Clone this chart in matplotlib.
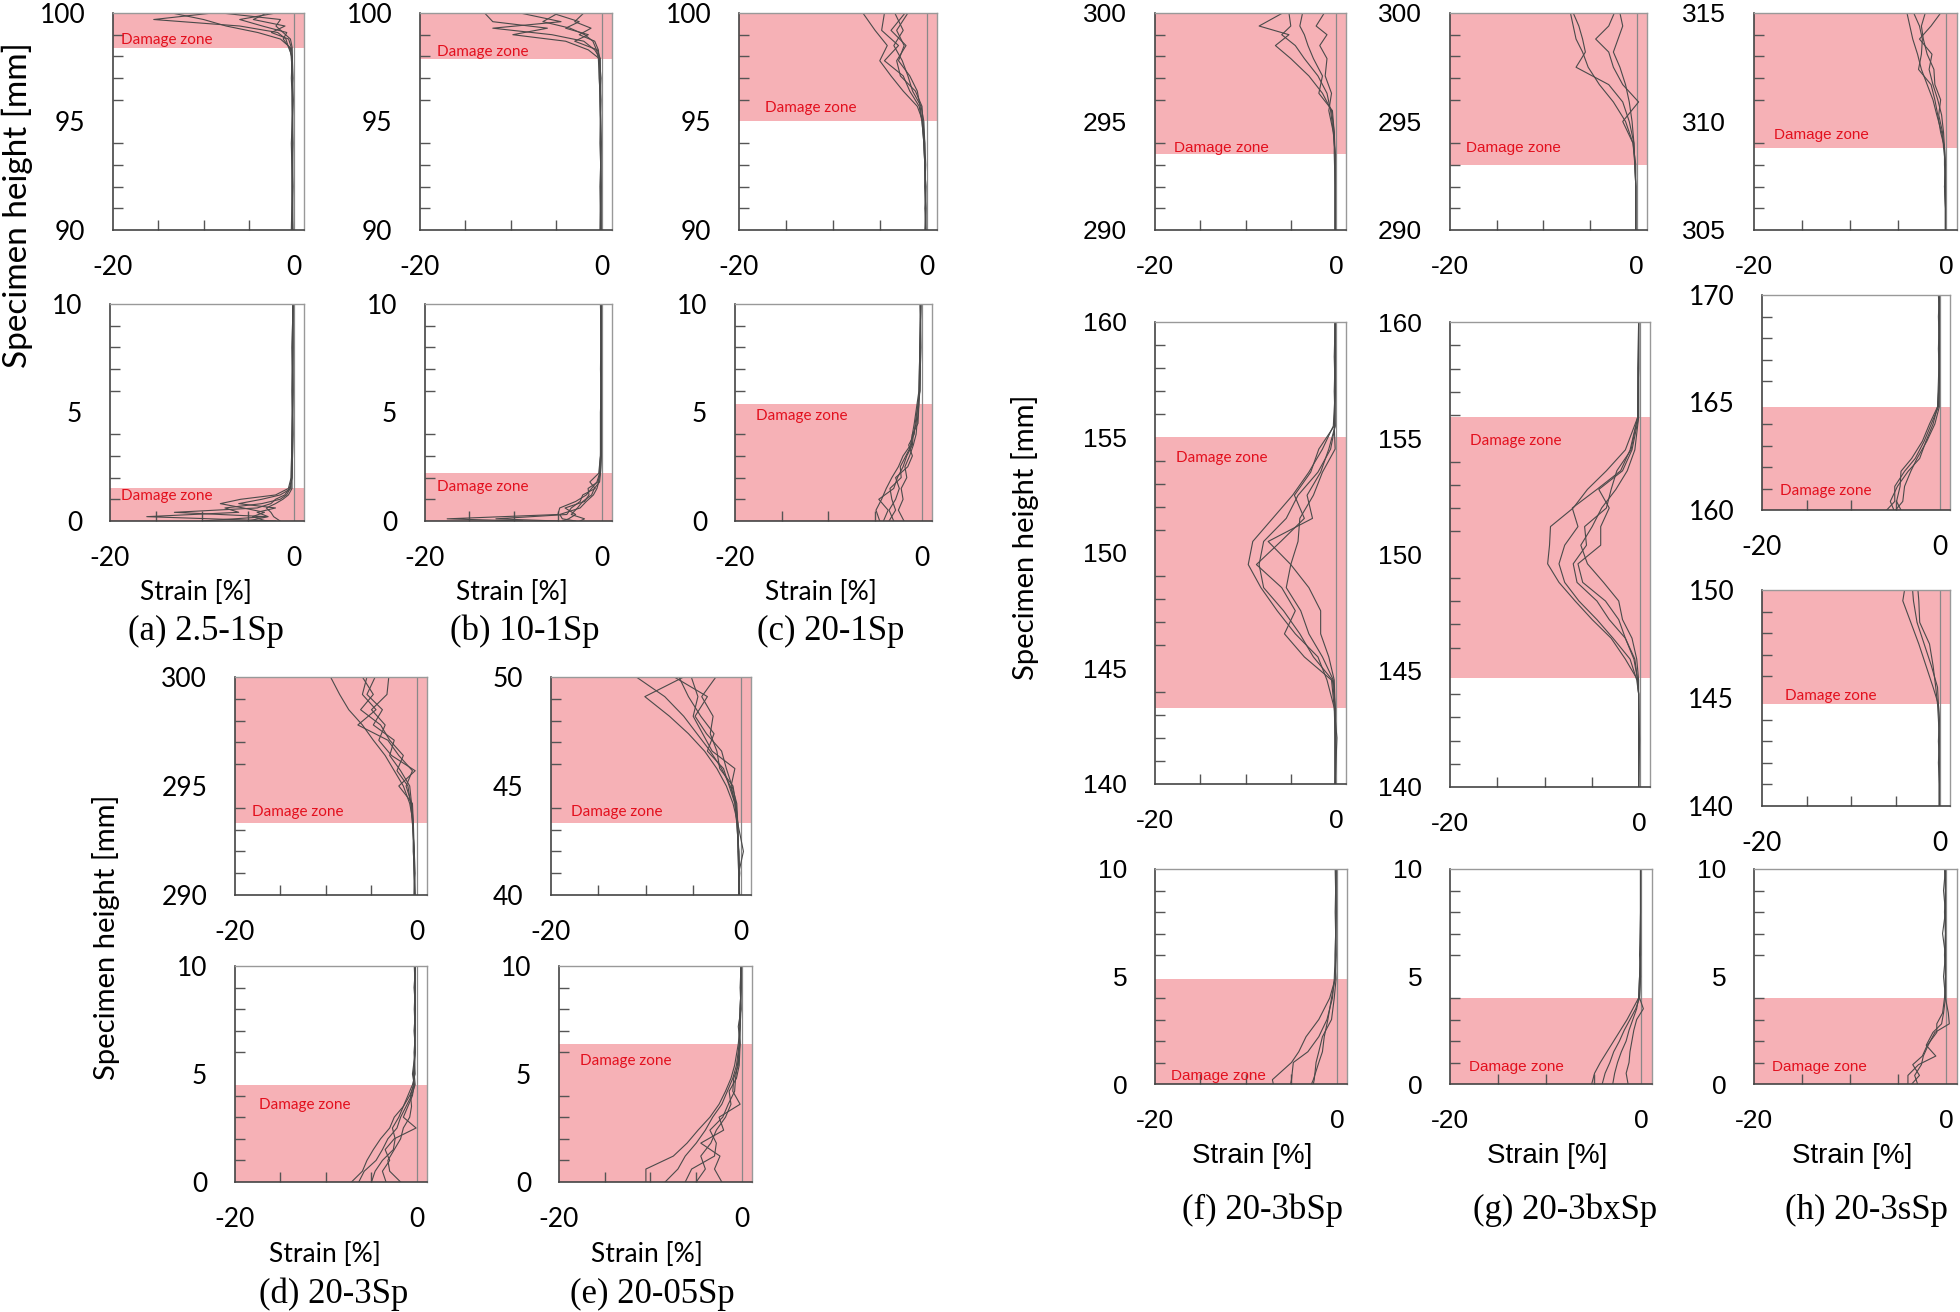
import matplotlib
matplotlib.use("Agg")
import matplotlib.pyplot as plt
from matplotlib.ticker import FixedLocator, MultipleLocator

W, H = 1960, 1312

# ---------- данные: высота образца [мм] и профили деформации [%] ----------

A_TOP_Y = [90, 92, 94, 96, 97, 98, 98.4, 98.8, 99.1, 99.4, 99.7, 100]
A_TOP_STRAIN = [
    [-0.2, -0.2, -0.2, -0.1, -0.2, -0.3, -0.4, -1.5, -4.0, -7.5, -10.0, -13.5],
    [-0.1, -0.2, -0.1, -0.2, -0.3, -0.2, -0.6, -0.9, -1.8, -6.0, -15.5, -9.0],
    [-0.2, -0.1, -0.2, -0.2, -0.1, -0.2, -0.3, -0.6, -2.5, -1.0, -4.5, -3.0],
    [-0.3, -0.2, -0.2, -0.2, -0.2, -0.3, -0.5, -1.2, -0.8, -3.5, -6.0, -2.0],
    [-0.2, -0.2, -0.3, -0.1, -0.2, -0.2, -0.2, -0.4, -1.2, -2.0, -1.5, -8.0],
]
A_TOP_ZONE = (98.4, 100)

A_BOT_Y = [0, 0.2, 0.4, 0.6, 0.8, 1.0, 1.2, 1.5, 2, 4, 6, 8, 10]
A_BOT_STRAIN = [
    [-2.0, -16.0, -6.0, -7.5, -3.5, -1.5, -0.8, -0.4, -0.2, -0.2, -0.1, -0.1, -0.1],
    [-3.0, -4.5, -3.2, -5.5, -8.0, -5.8, -2.0, -0.6, -0.3, -0.2, -0.2, -0.1, -0.1],
    [-10.0, -3.0, -13.0, -4.0, -2.5, -2.0, -1.0, -0.5, -0.2, -0.1, -0.2, -0.2, -0.1],
    [-5.0, -2.8, -4.0, -2.0, -6.0, -3.5, -1.5, -0.3, -0.3, -0.2, -0.1, -0.1, -0.1],
    [-1.5, -2.2, -2.5, -3.0, -2.0, -1.2, -0.6, -0.2, -0.2, -0.1, -0.1, -0.2, -0.1],
]
A_BOT_ZONE = (0, 1.5)

B_TOP_Y = [90, 92, 94, 96, 97, 97.9, 98.3, 98.7, 99.0, 99.3, 99.6, 100]
B_TOP_STRAIN = [
    [-0.1, -0.1, -0.2, -0.2, -0.3, -0.3, -1.5, -4.0, -9.8, -6.0, -12.0, -12.9],
    [-0.1, -0.2, -0.1, -0.2, -0.2, -0.2, -0.8, -2.0, -5.5, -12.0, -4.5, -9.0],
    [-0.2, -0.1, -0.1, -0.2, -0.3, -0.4, -0.6, -1.0, -1.9, -3.5, -6.5, -4.8],
    [-0.1, -0.1, -0.2, -0.1, -0.2, -0.2, -0.5, -3.0, -1.5, -4.0, -2.5, -5.5],
    [-0.2, -0.2, -0.1, -0.2, -0.1, -0.3, -0.4, -0.8, -2.5, -1.2, -3.0, -2.0],
]
B_TOP_ZONE = (97.9, 100)

B_BOT_Y = [0, 0.1, 0.3, 0.6, 0.9, 1.2, 1.5, 1.8, 2.2, 3, 5, 7, 10]
B_BOT_STRAIN = [
    [-9.0, -17.5, -5.0, -4.8, -3.0, -1.8, -1.2, -0.6, -0.3, -0.2, -0.1, -0.1, -0.2],
    [-5.0, -12.0, -4.0, -3.5, -2.5, -2.2, -0.8, -1.4, -0.4, -0.2, -0.2, -0.1, -0.1],
    [-4.5, -3.8, -3.0, -4.2, -2.0, -1.5, -1.6, -0.5, -0.2, -0.1, -0.1, -0.2, -0.1],
    [-3.0, -4.5, -4.8, -2.5, -1.8, -1.0, -0.6, -0.4, -0.3, -0.2, -0.2, -0.1, -0.1],
    [-2.5, -2.0, -3.5, -2.8, -2.2, -1.2, -0.9, -0.3, -0.2, -0.1, -0.1, -0.1, -0.2],
]
B_BOT_ZONE = (0, 2.2)

C_TOP_Y = [90, 91, 92, 93, 94, 95, 95.7, 96.4, 97.1, 97.8, 98.5, 99.2, 100]
C_TOP_STRAIN = [
    [-0.1, -0.1, -0.1, -0.2, -0.3, -0.4, -1.0, -2.5, -3.8, -5.0, -4.2, -5.5, -6.8],
    [-0.1, -0.1, -0.2, -0.2, -0.3, -0.5, -0.8, -1.8, -2.5, -4.5, -3.0, -4.8, -4.5],
    [-0.1, -0.2, -0.1, -0.2, -0.2, -0.4, -0.5, -1.2, -2.8, -3.2, -2.2, -3.8, -2.3],
    [-0.1, -0.1, -0.2, -0.1, -0.2, -0.3, -0.6, -1.5, -2.0, -2.6, -3.5, -2.5, -3.4],
    [-0.2, -0.1, -0.1, -0.2, -0.3, -0.5, -0.7, -1.0, -1.8, -3.0, -2.4, -3.2, -2.0],
]
C_TOP_ZONE = (95.0, 100)

C_BOT_Y = [0, 0.5, 1.0, 1.5, 2.0, 2.5, 3.0, 3.5, 4.0, 4.5, 5.4, 6, 8, 10]
C_BOT_STRAIN = [
    [-4.5, -4.9, -4.3, -3.8, -3.2, -2.5, -2.0, -1.2, -1.0, -0.8, -0.5, -0.3, -0.2, -0.1],
    [-4.1, -3.6, -4.6, -3.0, -2.6, -2.0, -1.6, -1.0, -0.9, -0.6, -0.4, -0.2, -0.2, -0.1],
    [-1.9, -2.5, -2.0, -2.2, -1.6, -1.8, -1.3, -0.9, -0.6, -0.5, -0.3, -0.2, -0.1, -0.1],
    [-3.0, -3.5, -2.8, -2.4, -2.8, -1.5, -1.0, -1.4, -0.8, -0.7, -0.4, -0.2, -0.1, -0.2],
    [-3.5, -2.8, -3.2, -3.4, -2.2, -2.3, -1.7, -1.1, -1.0, -0.4, -0.3, -0.3, -0.2, -0.1],
]
C_BOT_ZONE = (0, 5.4)

D_TOP_Y = [290, 291, 292, 293.3, 294.2, 295.0, 295.7, 296.4, 297.1, 297.8, 298.5, 299.2, 300]
D_TOP_STRAIN = [
    [-0.3, -0.3, -0.4, -0.4, -0.8, -1.5, -2.5, -3.5, -4.8, -6.0, -7.5, -8.5, -9.5],
    [-0.2, -0.3, -0.3, -0.4, -0.6, -1.2, -0.5, -2.0, -3.2, -6.5, -4.5, -6.0, -5.5],
    [-0.3, -0.2, -0.3, -0.5, -0.7, -1.0, -2.2, -1.5, -3.0, -4.0, -6.2, -4.8, -6.0],
    [-0.3, -0.3, -0.4, -0.4, -0.5, -2.0, -0.2, -2.8, -4.2, -3.5, -5.0, -3.3, -3.1],
    [-0.2, -0.3, -0.3, -0.5, -0.6, -0.8, -1.8, -3.0, -2.5, -4.8, -3.8, -5.5, -4.6],
]
D_TOP_ZONE = (293.3, 300)

D_BOT_Y = [0, 0.5, 1.0, 1.5, 2.0, 2.5, 3.0, 3.5, 4.0, 4.5, 5, 6, 7, 8, 9, 10]
D_BOT_STRAIN = [
    [-7.2, -6.0, -5.5, -4.8, -4.0, -3.0, -2.5, -1.5, -0.8, -0.3, -0.4, -0.2, -0.3, -0.2, -0.3, -0.2],
    [-6.4, -5.8, -4.5, -3.8, -3.2, -2.2, -1.8, -1.2, -0.6, -0.2, -0.3, -0.3, -0.2, -0.2, -0.2, -0.3],
    [-3.4, -3.8, -3.0, -3.5, -2.5, -0.1, -1.5, -1.0, -0.5, -0.3, -0.5, -0.2, -0.2, -0.3, -0.2, -0.2],
    [-1.8, -3.0, -3.2, -2.5, -1.8, -1.5, -0.8, -0.6, -0.7, -0.4, -0.3, -0.2, -0.3, -0.2, -0.2, -0.2],
    [-5.0, -4.6, -3.8, -2.6, -2.4, -2.7, -2.0, -1.5, -1.0, -0.5, -0.2, -0.3, -0.2, -0.2, -0.3, -0.2],
]
D_BOT_ZONE = (0, 4.5)

E_TOP_Y = [40, 41, 42, 43.3, 44.2, 45.0, 45.8, 46.6, 47.4, 48.2, 49.1, 50]
E_TOP_STRAIN = [
    [-0.2, -0.2, -0.3, -0.3, -0.8, -1.5, -2.5, -3.8, -5.5, -7.5, -10.1, -6.0],
    [-0.2, -0.1, -0.2, -0.4, -0.6, -1.2, -1.8, -3.5, -2.8, -4.2, -5.5, -6.5],
    [-0.2, -0.2, 0.3, -0.3, -0.5, -0.8, -2.2, -2.5, -3.2, -2.9, -4.1, -2.6],
    [-0.1, -0.2, -0.2, -0.4, -0.6, -1.0, -0.6, -3.0, -4.0, -5.0, -4.5, -5.2],
    [-0.2, -0.2, -0.2, -0.3, -0.4, -0.9, -1.5, -2.0, -3.6, -4.8, -3.5, -7.0],
    [-0.2, -0.1, -0.2, -0.3, -0.5, -1.1, -2.0, -3.2, -4.6, -6.0, -8.0, -11.0],
]
E_TOP_ZONE = (43.3, 50)

E_BOT_Y = [0, 0.6, 1.2, 1.8, 2.4, 3.0, 3.6, 4.2, 4.8, 5.4, 6.4, 7.2, 8, 9, 10]
E_BOT_STRAIN = [
    [-10.5, -10.5, -7.5, -6.0, -4.8, -3.5, -2.5, -1.8, -1.2, -0.8, -0.4, -0.2, -0.2, -0.1, -0.1],
    [-8.4, -7.0, -6.2, -5.0, -4.0, -3.2, -2.2, -1.6, -1.0, -0.6, -0.3, -0.3, -0.2, -0.1, -0.1],
    [-6.2, -5.5, -3.0, -2.8, -3.5, -2.1, -1.5, -0.8, -0.7, -0.5, -0.2, -0.4, -0.1, -0.2, -0.1],
    [-2.2, -3.0, -2.4, -4.5, -2.0, -2.5, -0.2, -1.0, -0.9, -0.4, -0.3, -0.2, -0.2, -0.1, -0.1],
    [-5.0, -4.0, -4.5, -3.4, -2.8, -1.8, -1.2, -1.4, -0.6, -0.3, -0.2, -0.2, -0.1, -0.1, -0.1],
]
E_BOT_ZONE = (0, 6.4)

F_TOP_Y = [290, 291, 292, 293.5, 294.5, 295.5, 296.3, 297.1, 297.9, 298.5, 299.0, 299.4, 300]
F_TOP_STRAIN = [
    [-0.1, -0.1, -0.1, -0.1, -0.2, -0.5, -1.5, -3.0, -5.0, -6.7, -5.2, -8.5, -5.9],
    [-0.1, -0.1, -0.1, -0.1, -0.3, -0.6, -1.0, -2.0, -3.5, -4.5, -6.0, -5.0, -5.2],
    [-0.1, -0.1, -0.1, -0.2, -0.2, -0.4, -1.9, -1.5, -2.5, -3.1, -3.5, -4.0, -3.7],
    [-0.1, -0.1, -0.1, -0.1, -0.3, -0.8, -0.5, -1.2, -1.0, -1.8, -1.0, -2.2, -1.3],
]
F_TOP_ZONE = (293.5, 300)

F_MID_Y = [140, 142, 143.3, 144.5, 145.5, 146.5, 147.5, 148.5, 149.5, 150.5,
           151.5, 152.5, 153.5, 154.5, 155.5, 157, 158.5, 160]
F_MID_STRAIN = [
    [-0.1, -0.1, -0.2, -1.0, -2.0, -4.5, -6.5, -8.3, -9.7, -9.2, -7.0, -4.8, -3.0, -1.5, -0.3, -0.1, -0.2, -0.1],
    [-0.1, 0.1, -0.2, -0.5, -3.5, -5.7, -4.5, -6.0, -8.8, -6.1, -3.5, -4.6, -2.8, -1.9, -0.2, -0.1, -0.1, -0.1],
    [-0.1, -0.1, -0.1, -0.3, -1.5, -3.0, -3.9, -5.5, -5.0, -7.5, -2.6, -3.2, -1.7, -0.8, -0.1, -0.2, -0.1, -0.1],
    [-0.1, -0.1, -0.1, -0.2, -0.8, -1.7, -1.7, -3.0, -5.0, -4.2, -4.0, -2.5, -1.5, -0.1, -0.2, -0.1, -0.1, -0.1],
    [-0.1, -0.1, -0.1, -0.4, -2.5, -4.0, -5.8, -8.0, -8.5, -8.0, -5.5, -4.2, -2.0, -0.6, -0.1, -0.1, -0.1, -0.1],
]
F_MID_ZONE = (143.3, 155.0)

F_BOT_Y = [0, 0.2, 1.0, 1.5, 2.2, 3.0, 4.0, 4.9, 6, 8, 10]
F_BOT_STRAIN = [
    [-7.0, -7.1, -5.0, -4.2, -3.4, -2.0, -0.8, -0.2, -0.1, -0.1, -0.2],
    [-5.1, -5.0, -4.8, -3.2, -2.0, -1.1, -0.5, -0.3, -0.2, -0.1, -0.1],
    [-2.8, -2.6, -2.0, -1.6, -1.4, -1.0, -0.6, -0.2, -0.1, -0.2, -0.1],
    [-2.6, -2.5, -2.3, -2.0, -1.6, -0.6, -0.3, -0.1, -0.2, -0.1, -0.1],
]
F_BOT_ZONE = (0, 4.9)

G_TOP_Y = [290, 291, 292, 293, 294, 295, 295.9, 296.7, 297.5, 298.2, 298.8, 299.4, 300]
G_TOP_STRAIN = [
    [-0.1, -0.1, -0.1, -0.2, -0.4, -1.2, -2.5, -4.0, -5.2, -5.8, -6.5, -6.8, -7.1],
    [-0.1, -0.1, -0.1, -0.2, -0.3, -0.8, -1.5, -3.0, -6.5, -5.5, -5.8, -6.2, -6.8],
    [-0.1, -0.1, -0.1, -0.1, -0.4, -1.5, 0.2, -1.5, -2.5, -3.0, -4.4, -3.0, -2.4],
    [-0.1, -0.1, -0.1, -0.2, -0.3, -0.5, -0.8, -1.2, -1.8, -2.5, -2.0, -1.5, -1.8],
]
G_TOP_ZONE = (293.0, 300)

G_MID_Y = [140, 142, 144, 144.6, 145.5, 146.4, 147.2, 148.0, 148.8, 149.6,
           150.4, 151.2, 152.0, 152.8, 153.6, 154.5, 155.9, 158, 160]
G_MID_STRAIN = [
    [-0.1, -0.1, -0.1, -0.2, -1.5, -3.0, -5.0, -6.8, -8.5, -9.7, -9.5, -9.4, -7.0, -5.5, -3.5, -1.5, -0.2, -0.1, -0.1],
    [-0.1, 0.0, -0.1, -0.3, -1.0, -2.8, -4.5, -6.4, -7.9, -8.5, -7.9, -6.5, -7.1, -4.5, -2.0, -1.0, -0.2, -0.2, -0.1],
    [-0.1, -0.1, -0.1, -0.2, -0.5, -1.5, -2.2, -3.6, -6.0, -6.5, -4.1, -4.1, -3.2, -4.3, -1.8, -0.8, -0.1, -0.1, -0.1],
    [-0.1, -0.1, -0.1, -0.1, -0.3, -0.8, -1.8, -2.2, -3.8, -5.5, -6.2, -5.0, -4.0, -2.5, -1.3, -0.5, -0.1, -0.1, -0.1],
    [-0.1, -0.1, -0.1, -0.2, -0.6, -1.5, -3.2, -4.5, -6.6, -7.0, -5.6, -5.8, -3.5, -3.0, -2.4, -0.9, -0.2, -0.1, -0.1],
]
G_MID_ZONE = (144.7, 155.9)

G_BOT_Y = [0, 0.5, 1.0, 1.5, 2.0, 2.5, 3.0, 3.5, 4.0, 5, 6, 8, 10]
G_BOT_STRAIN = [
    [-5.2, -4.9, -4.3, -3.6, -2.9, -2.2, -1.5, -0.9, -0.3, -0.2, -0.1, -0.1, -0.1],
    [-4.1, -3.8, -3.3, -2.9, -2.3, -1.8, -1.2, -0.6, -0.2, -0.1, -0.2, -0.1, -0.1],
    [-3.0, -2.8, -2.5, -2.1, -1.6, -1.3, -0.9, -0.5, -0.3, -0.2, -0.1, -0.1, -0.1],
    [-1.4, -1.6, -1.3, -1.2, -1.0, -0.8, -0.5, 0.2, -0.2, -0.1, -0.1, -0.1, -0.1],
]
G_BOT_ZONE = (0, 4.0)

H_TOP_Y = [305, 306, 307, 308, 308.8, 309.5, 310.3, 311.0, 311.7, 312.4, 313.1, 313.8, 314.4, 315]
H_TOP_STRAIN = [
    [-0.1, -0.1, -0.2, -0.1, -0.2, -0.5, -1.0, -1.4, -2.0, -2.6, -3.0, -3.5, -3.8, -4.1],
    [-0.1, -0.1, -0.1, -0.2, -0.2, -0.6, -0.9, -1.2, -1.6, -2.9, -2.6, -2.5, -2.8, -3.4],
    [-0.1, -0.1, -0.1, -0.1, -0.3, -0.4, -0.8, -0.6, -1.2, -1.3, -2.0, -2.4, -2.6, -2.2],
    [-0.1, -0.1, -0.2, -0.1, -0.2, -0.3, -0.5, -0.9, -1.4, -1.8, -1.5, -2.8, -1.6, -0.6],
]
H_TOP_ZONE = (308.8, 315)

H_MID1_Y = [160, 160.4, 161.1, 161.8, 162.4, 163.2, 164.0, 164.8, 166, 167.5, 169, 170]
H_MID1_STRAIN = [
    [-6.0, -5.1, -5.1, -4.0, -2.8, -1.8, -1.0, -0.2, -0.1, -0.1, -0.1, -0.2],
    [-5.2, -5.6, -4.8, -3.6, -2.3, -1.6, -0.8, -0.3, -0.2, -0.1, -0.1, -0.1],
    [-4.4, -4.9, -4.5, -4.4, -3.2, -2.0, -1.2, -0.3, -0.1, -0.2, -0.1, -0.1],
    [-5.0, -4.2, -4.0, -3.3, -2.6, -1.5, -0.6, -0.1, -0.1, -0.1, -0.2, -0.1],
]
H_MID1_ZONE = (160, 164.8)

H_MID2_Y = [140, 141, 142, 143, 144, 144.7, 145.5, 146.5, 147.5, 148.5, 149.5, 150]
H_MID2_STRAIN = [
    [-0.1, -0.1, -0.2, -0.1, -0.1, -0.2, -0.8, -1.6, -2.4, -3.3, -4.2, -4.0],
    [-0.1, -0.1, -0.1, -0.2, -0.1, -0.2, -0.3, -1.0, -1.8, -2.6, -3.0, -3.1],
    [-0.1, -0.1, -0.1, -0.1, -0.2, -0.3, -0.5, -0.8, -1.2, -2.3, -2.4, -2.5],
]
H_MID2_ZONE = (144.7, 150)

H_BOT_Y = [0, 0.4, 0.9, 1.3, 1.8, 2.4, 2.8, 3.3, 4.0, 5, 6, 7, 8, 9, 10]
H_BOT_STRAIN = [
    [-4.0, -4.0, -2.9, -1.1, -2.1, -1.4, -0.5, -0.3, -0.1, -0.3, -0.1, -0.4, -0.1, -0.3, -0.1],
    [-3.0, -3.3, -2.6, -2.4, -1.9, -1.2, 0.3, 0.2, -0.1, -0.1, -0.2, -0.1, -0.2, -0.1, -0.1],
    [-3.6, -2.8, -3.5, -2.5, -2.0, -1.0, -1.0, -0.4, -0.2, -0.1, -0.1, -0.1, -0.1, -0.1, -0.2],
]
H_BOT_ZONE = (0, 4.0)

CAPTIONS = ["(a) 2.5-1Sp", "(b) 10-1Sp", "(c) 20-1Sp", "(d) 20-3Sp",
            "(e) 20-05Sp", "(f) 20-3bSp", "(g) 20-3bxSp", "(h) 20-3sSp"]

# ---------- оформление ----------

PINK = "#F6B1B6"
RED = "#E3101E"
LINE = "#4a4a4a"
FONT_A = ["Lato", "DejaVu Sans"]
FONT_F = ["Liberation Sans Narrow", "Liberation Sans", "DejaVu Sans"]
FONT_CAP = ["Liberation Serif", "DejaVu Serif"]

fig = plt.figure(figsize=(W / 100, H / 100), dpi=100)


def _ax(l, t, r, b):
    return fig.add_axes([l / W, 1 - b / H, (r - l) / W, (b - t) / H])


def panel(box, ylim, ys, curves, zone, txt, font, tfont=None):
    ax = _ax(*box)
    ax.set_xlim(-20, 1.1)
    ax.set_ylim(*ylim)
    ax.axhspan(zone[0], zone[1], color=PINK, lw=0, zorder=0)
    ax.axvline(0, color="#888", lw=0.9, zorder=1)
    for s in curves:
        ax.plot(s, ys, color=LINE, lw=0.8, zorder=2)
    ax.text(txt[0], txt[1], "Damage zone", color=RED, fontsize=11,
            family=tfont or font, va="center", ha="left", zorder=3)

    ax.xaxis.set_major_locator(FixedLocator([-20, 0]))
    ax.xaxis.set_minor_locator(FixedLocator([-15, -10, -5]))
    ax.yaxis.set_major_locator(MultipleLocator(5))
    ax.yaxis.set_minor_locator(MultipleLocator(1))
    ax.set_xticklabels(["-20", "0"])
    ax.tick_params(which="both", direction="in", color="#555", width=1.0,
                   top=False, right=False)
    ax.tick_params(which="major", length=0, labelsize=19)
    ax.tick_params(which="minor", length=7)
    ax.tick_params(axis="x", pad=18)
    ax.tick_params(axis="y", pad=20)
    for lab in ax.get_xticklabels() + ax.get_yticklabels():
        lab.set_family(font)
    for side in ("left", "bottom"):
        ax.spines[side].set_color("#444")
        ax.spines[side].set_linewidth(1.2)
    for side in ("top", "right"):
        ax.spines[side].set_color("#999")
        ax.spines[side].set_linewidth(1.0)
    return ax


def ftext(x, y, s, **kw):
    fig.text(x / W, 1 - y / H, s, ha="center", va="center", **kw)


# (a)-(c)
panel((113, 13, 304, 230), (90, 100), A_TOP_Y, A_TOP_STRAIN, A_TOP_ZONE, (-19.1, 98.75), FONT_A)
panel((110, 304, 304, 521), (0, 10), A_BOT_Y, A_BOT_STRAIN, A_BOT_ZONE, (-18.8, 1.15), FONT_A)
panel((420, 13, 612, 230), (90, 100), B_TOP_Y, B_TOP_STRAIN, B_TOP_ZONE, (-18.1, 98.2), FONT_A)
panel((425, 304, 612, 521), (0, 10), B_BOT_Y, B_BOT_STRAIN, B_BOT_ZONE, (-18.7, 1.55), FONT_A)
panel((739, 13, 937, 230), (90, 100), C_TOP_Y, C_TOP_STRAIN, C_TOP_ZONE, (-17.2, 95.6), FONT_A)
panel((735, 304, 932, 521), (0, 10), C_BOT_Y, C_BOT_STRAIN, C_BOT_ZONE, (-17.8, 4.85), FONT_A)

# (d)-(e)
panel((235, 677, 427, 895), (290, 300), D_TOP_Y, D_TOP_STRAIN, D_TOP_ZONE, (-18.1, 293.8), FONT_A)
panel((235, 966, 427, 1182), (0, 10), D_BOT_Y, D_BOT_STRAIN, D_BOT_ZONE, (-17.4, 3.55), FONT_A)
panel((551, 677, 751, 895), (40, 50), E_TOP_Y, E_TOP_STRAIN, E_TOP_ZONE, (-17.9, 43.8), FONT_A)
panel((559, 966, 752, 1182), (0, 10), E_BOT_Y, E_BOT_STRAIN, E_BOT_ZONE, (-17.7, 5.6), FONT_A)

# (f)-(h)
panel((1155, 13, 1346, 230), (290, 300), F_TOP_Y, F_TOP_STRAIN, F_TOP_ZONE, (-17.9, 293.8), FONT_F)
panel((1155, 322, 1346, 784), (140, 160), F_MID_Y, F_MID_STRAIN, F_MID_ZONE, (-17.7, 154.1), FONT_F, FONT_A)
panel((1155, 869, 1347, 1084), (0, 10), F_BOT_Y, F_BOT_STRAIN, F_BOT_ZONE, (-18.2, 0.35), FONT_F)
panel((1450, 13, 1647, 230), (290, 300), G_TOP_Y, G_TOP_STRAIN, G_TOP_ZONE, (-18.3, 293.8), FONT_F)
panel((1450, 322, 1650, 787), (140, 160), G_MID_Y, G_MID_STRAIN, G_MID_ZONE, (-17.9, 154.9), FONT_F, FONT_A)
panel((1450, 869, 1652, 1084), (0, 10), G_BOT_Y, G_BOT_STRAIN, G_BOT_ZONE, (-18.0, 0.8), FONT_F)
panel((1754, 13, 1957, 230), (305, 315), H_TOP_Y, H_TOP_STRAIN, H_TOP_ZONE, (-17.9, 309.4), FONT_F)
panel((1762, 295, 1950, 510), (160, 170), H_MID1_Y, H_MID1_STRAIN, H_MID1_ZONE, (-18.0, 160.9), FONT_A)
panel((1762, 590, 1950, 806), (140, 150), H_MID2_Y, H_MID2_STRAIN, H_MID2_ZONE, (-17.4, 145.1), FONT_A)
panel((1754, 869, 1957, 1084), (0, 10), H_BOT_Y, H_BOT_STRAIN, H_BOT_ZONE, (-18.1, 0.8), FONT_F)

# подписи осей
for x, y in [(196, 592), (512, 592), (821, 592), (325, 1254), (647, 1254)]:
    ftext(x, y, "Strain [%]", fontsize=19, family=FONT_A)
for x in (1252, 1547, 1852):
    ftext(x, 1156, "Strain [%]", fontsize=20, family=FONT_F)
ftext(17, 205, "Specimen height [mm]", fontsize=24, family=FONT_A, rotation=90)
ftext(106, 937, "Specimen height [mm]", fontsize=21, family=FONT_A, rotation=90)
ftext(1025, 537, "Specimen height [mm]", fontsize=21, family=FONT_A, rotation=90)

cap_pos = [(206, 631), (525, 631), (831, 631), (334, 1294), (652, 1294),
           (1262, 1210), (1565, 1210), (1866, 1210)]
for (x, y), c in zip(cap_pos, CAPTIONS):
    ftext(x, y, c, fontsize=25, family=FONT_CAP)

fig.savefig("out.png", dpi=100)
